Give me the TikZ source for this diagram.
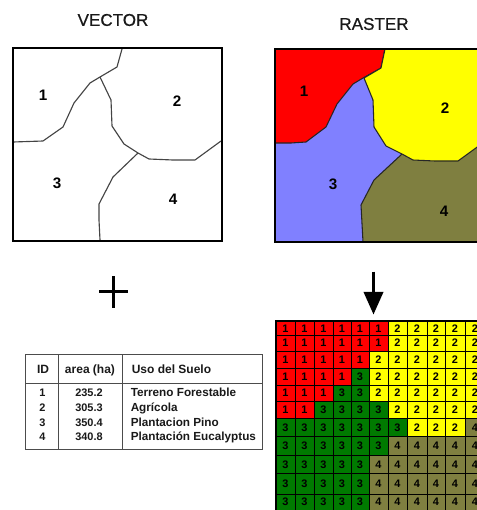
\documentclass[tikz,border=0pt]{standalone}
\usepackage{fontspec}
\setmainfont{Liberation Sans}
\newfontfamily\heavyfont[FakeBold=0.6]{Liberation Sans}
\usetikzlibrary{arrows.meta}
\definecolor{cblu}{HTML}{8080FF}
\definecolor{cred}{HTML}{FF0000}
\definecolor{cyel}{HTML}{FFFF00}
\definecolor{coli}{HTML}{7F7F40}
\colorlet{c1}{cred}
\colorlet{c2}{cyel}
\definecolor{c3}{HTML}{007A00}
\colorlet{c4}{coli}
\definecolor{bline}{HTML}{444444}
\tikzset{
  title/.style={font=\heavyfont\fontsize{12.8}{15}\selectfont, text=black!90},
  bigdigit/.style={font=\bfseries\fontsize{11.4}{13}\selectfont},
  border/.style={draw=black, line width=1.5},
  parcel/.style={draw=bline, line width=0.85, line join=round},
  edge/.style={draw=black!85, line width=0.8, line join=round},
  celltext/.style={font=\bfseries\fontsize{8.2}{9}\selectfont, text=black},
  head/.style={font=\bfseries\fontsize{9}{10}\selectfont, text=black!90, text height=6.6pt, text depth=2pt},
  rowtext/.style={font=\bfseries\fontsize{8.8}{10}\selectfont, text=black!90, text height=6.4pt, text depth=2pt},
  numtext/.style={font=\bfseries\fontsize{8.2}{10}\selectfont, text=black!90, text height=6pt, text depth=1.6pt},
  rule/.style={draw=black!70, line width=0.75},
}
\begin{document}
\begin{tikzpicture}[x=0.75pt,y=-0.75pt]
\useasboundingbox (0,0) rectangle (477,510);
\clip (0,0) rectangle (477,510);
% titles
\node[title] (tv) at (113,20) {VECTOR};
\node[title] (tr) at (374,24) {RASTER};
% vector map
\coordinate (vj1) at (100,77);
\coordinate (vj2) at (138,153);
\draw[parcel] (13,142) -- (43,141) -- (63,127) -- (74,103) -- (90,83) -- (vj1) -- (117,67) -- (122,49);
\draw[parcel] (vj1) -- (111,100) -- (112,126) -- (124,144) -- (vj2) -- (149,159) -- (173,160) -- (195,160) -- (221,141);
\draw[parcel] (vj2) -- (113,177) -- (99,204) -- (99,220) -- (100,240);
\draw[border] (12.5,48) rectangle (222,241);
\node[bigdigit] (v1) at (43,95) {1};
\node[bigdigit] (v2) at (177,101) {2};
\node[bigdigit] (v3) at (57,183) {3};
\node[bigdigit] (v4) at (173,199) {4};
% raster map
\fill[cblu] (275,49) rectangle (477,242);
\filldraw[fill=cred,edge] (275,49) -- (385,49) -- (381,68) -- (363,78) -- (353,84) -- (337,104) -- (326,127) -- (306,142) -- (291,143) -- (275,143) -- cycle;
\filldraw[fill=coli,edge] (402,154) -- (374,180) -- (361,205) -- (363,242) -- (480,242) -- (480,147) -- cycle;
\filldraw[fill=cyel,edge] (385,49) -- (381,68) -- (364,78) -- (373,100) -- (374,127) -- (386,146) -- (402,154) -- (413,160) -- (435,161) -- (458,161) -- (480,145) -- (480,49) -- cycle;
\draw[border] (480,49) -- (275,49) -- (275,242) -- (480,242);
\node[bigdigit] (r1) at (304,91) {1};
\node[bigdigit] (r2) at (445,108) {2};
\node[bigdigit] (r3) at (333,184) {3};
\node[bigdigit] (r4) at (444,211) {4};
% plus
\coordinate (ph1) at (99,291.5);
\coordinate (ph2) at (128,291.5);
\coordinate (pv1) at (113.5,276);
\coordinate (pv2) at (113.5,308);
\draw[line width=1.6] (ph1) -- (ph2);
\draw[line width=2] (pv1) -- (pv2);
% arrow
\coordinate (a1) at (373.5,271.5);
\coordinate (a2) at (373.5,314.5);
\draw[line width=2.2,-{Triangle[width=14.5pt,length=17pt]}] (a1) -- (a2);
% table
\draw[rule] (25,354) rectangle (262.5,449);
\draw[rule] (25,383) -- (262.5,383);
\draw[rule] (58.5,354) -- (58.5,449) (122,354) -- (122,449);
\node[head] (hid) at (43,370) {ID};
\node[head] (har) at (90,370) {area (ha)};
\node[head,anchor=west,inner sep=0pt] (hus) at (131.5,370) {Uso del Suelo};
\foreach \y/\i/\a/\u in {394/1/235.2/Terreno Forestable,408.7/2/305.3/Agrícola,423.3/3/350.4/Plantacion Pino,438/4/340.8/Plantación Eucalyptus}{
  \node[numtext] (id\i) at (42.5,\y) {\i};
  \node[numtext] (ar\i) at (89,\y) {\a};
  \node[rowtext,anchor=west,inner sep=0pt] (us\i) at (130.5,\y) {\u};
}
% grid
\def\colA{{276,295,314,333,351,369,388,407,427,445,465,485}}
\fill[black] (275,320) rectangle (477,510);
\foreach \r/\ya/\yb/\vals in {
  1/321.5/335/{1,1,1,1,1,1,2,2,2,2,2},
  2/335/351/{1,1,1,1,1,1,2,2,2,2,2},
  3/351/368/{1,1,1,1,1,2,2,2,2,2,2},
  4/368/385/{1,1,1,1,3,2,2,2,2,2,2},
  5/385/401/{1,1,1,3,3,2,2,2,2,2,2},
  6/401/418.5/{1,1,3,3,3,3,2,2,2,2,2},
  7/418.5/436.5/{3,3,3,3,3,3,3,2,2,2,4},
  8/436.5/455.5/{3,3,3,3,3,3,4,4,4,4,4},
  9/455.5/473.5/{3,3,3,3,3,4,4,4,4,4,4},
  10/473.5/494.5/{3,3,3,3,3,4,4,4,4,4,4},
  11/494.5/515/{3,3,3,3,3,4,4,4,4,4,4}}{
  \foreach \v [count=\c from 0] in \vals {
    \pgfmathsetmacro{\xa}{\colA[\c]}
    \pgfmathsetmacro{\xb}{\colA[\c+1]}
    \fill[c\v] (\xa+0.5,\ya+0.5) rectangle (\xb-0.5,\yb-0.5);
    \node[celltext,inner sep=0pt] (g-\r-\c) at ({(\xa+\xb)/2},{min((\ya+\yb)/2,502)}) {\v};
  }
}
\end{tikzpicture}
\end{document}
